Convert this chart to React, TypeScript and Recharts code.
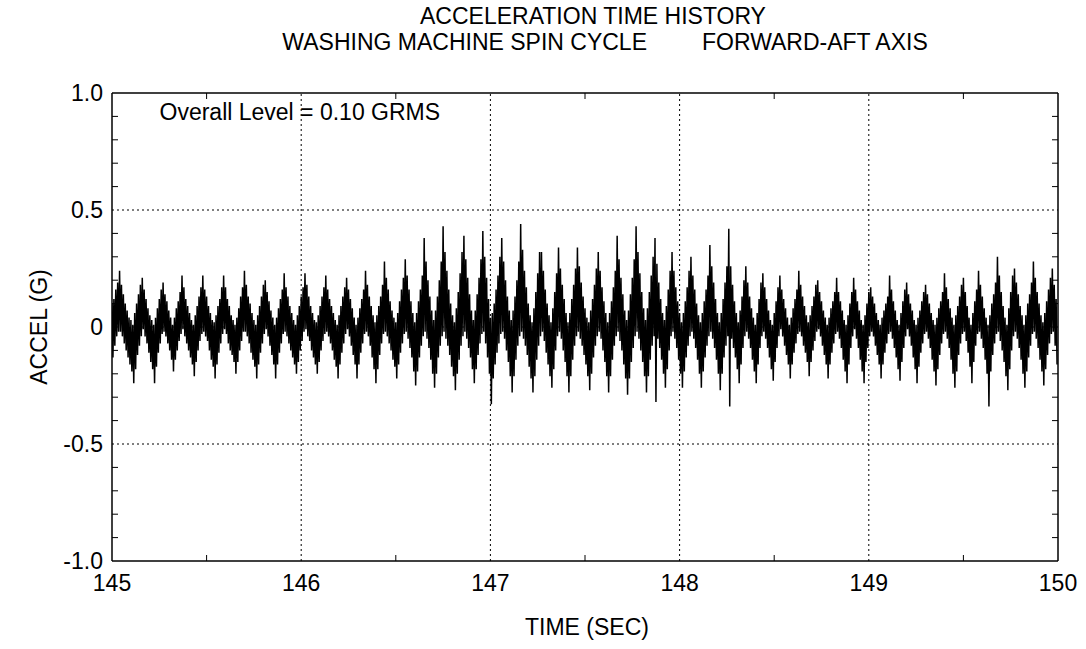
import React from 'react';
import { LineChart, Line, XAxis, YAxis, ReferenceLine } from 'recharts';

// ---------- data ----------
// Acceleration envelope, in hundredths of G.
// One bin every 0.01 s from 145.00 s: the highest and the lowest excursion inside each bin.
const T0 = 145;
const DT = 0.01;

const accelHigh: number[] = [
  10, 12, 16, 19,
  24, 18, 14, 10, 7, 4, 3, 1, 6, 10, 14, 18,
  21, 16, 12, 8, 5, 3, 1, 4, 8, 12, 16,
  19, 14, 11, 7, 4, 1, 4, 8, 11, 15,
  22, 17, 12, 9, 6, 3, 1, 5, 9, 13, 17,
  22, 16, 13, 9, 6, 3, 2, 5, 9, 12, 17,
  22, 17, 12, 9, 5, 3, 1, 4, 8, 13, 17,
  24, 18, 13, 10, 6, 3, 1, 5, 9, 13, 18,
  20, 15, 11, 7, 4, 1, 4, 8, 12, 16,
  23, 17, 13, 9, 6, 3, 1, 5, 9, 13, 17,
  23, 18, 13, 9, 6, 3, 2, 5, 9, 13, 17,
  22, 16, 12, 9, 6, 3, 1, 5, 9, 13, 17,
  21, 16, 12, 8, 4, 1, 4, 8, 12, 16,
  24, 18, 13, 9, 5, 2, 5, 9, 13, 18,
  28, 21, 16, 11, 7, 4, 2, 6, 11, 16, 21,
  29, 22, 16, 11, 6, 2, 6, 11, 16, 22,
  38, 28, 20, 13, 7, 3, 7, 13, 20, 28,
  43, 32, 24, 16, 10, 5, 2, 8, 15, 23, 32,
  39, 29, 21, 14, 7, 3, 7, 14, 21, 29,
  41, 30, 21, 12, 4, 6, 10, 16, 22, 30,
  38, 28, 20, 13, 7, 3, 7, 13, 20, 28,
  44, 33, 24, 17, 10, 5, 2, 8, 15, 23, 32,
  32, 24, 16, 10, 5, 2, 8, 15, 23,
  34, 25, 18, 12, 6, 2, 6, 12, 18, 25,
  34, 26, 19, 13, 8, 4, 2, 7, 12, 18, 25,
  32, 24, 17, 11, 6, 2, 6, 11, 17, 24,
  39, 29, 21, 14, 7, 3, 7, 14, 21, 29,
  43, 32, 23, 15, 8, 3, 8, 15, 22, 30,
  38, 27, 19, 12, 6, 3, 9, 16, 24,
  32, 24, 17, 11, 6, 2, 6, 11, 17, 24,
  30, 22, 16, 10, 5, 2, 6, 11, 16, 22,
  35, 26, 19, 12, 6, 2, 6, 12, 19, 26,
  42, 26, 18, 11, 6, 2, 7, 13, 20,
  26, 19, 13, 8, 4, 1, 6, 12, 19,
  23, 17, 12, 7, 3, 1, 6, 11, 17,
  22, 16, 12, 8, 4, 1, 4, 8, 12, 16,
  24, 18, 13, 9, 5, 2, 5, 9, 13, 18,
  20, 15, 11, 7, 4, 1, 4, 8, 11, 15,
  21, 15, 11, 7, 3, 1, 5, 10, 15,
  21, 16, 11, 7, 3, 1, 5, 10, 15,
  17, 13, 10, 6, 3, 1, 4, 7, 10, 13,
  22, 16, 11, 7, 3, 1, 6, 11, 16,
  19, 14, 10, 7, 3, 1, 4, 7, 11, 15,
  18, 14, 10, 6, 3, 1, 4, 8, 11, 15,
  23, 17, 12, 8, 4, 1, 5, 9, 13, 18,
  21, 15, 9, 4, 1, 6, 11, 16,
  24, 18, 13, 8, 4, 1, 5, 10, 14, 19,
  30, 22, 15, 9, 4, 1, 8, 15, 22,
  25, 19, 14, 9, 5, 1, 5, 10, 14, 19,
  28, 21, 15, 10, 5, 2, 6, 11, 16, 21,
  25, 18, 12,
];

const accelLow: number[] = [
  -13, -8, -4, -2,
  -2, -4, -7, -10, -13, -16, -19, -24, -18, -12, -8, -4,
  -1, -4, -7, -11, -15, -18, -24, -17, -11, -7, -3,
  -2, -4, -7, -10, -14, -19, -14, -10, -6, -3,
  -1, -4, -7, -10, -13, -16, -21, -15, -10, -6, -3,
  -2, -4, -6, -10, -14, -17, -22, -16, -11, -7, -3,
  -1, -3, -7, -10, -12, -15, -20, -15, -10, -6, -2,
  -2, -4, -7, -11, -14, -17, -22, -16, -11, -7, -3,
  -1, -4, -8, -12, -16, -22, -16, -11, -7, -3,
  -2, -4, -7, -10, -13, -16, -20, -15, -10, -6, -2,
  -1, -4, -6, -10, -13, -16, -20, -15, -10, -6, -3,
  -2, -4, -7, -10, -14, -17, -22, -16, -11, -7, -3,
  -1, -4, -8, -12, -16, -22, -16, -11, -7, -3,
  -2, -4, -8, -13, -18, -24, -18, -12, -7, -3,
  -2, -4, -7, -10, -14, -17, -22, -16, -11, -7, -3,
  -2, -5, -9, -13, -19, -25, -19, -13, -8, -4,
  -2, -5, -9, -14, -20, -26, -20, -13, -8, -4,
  -2, -5, -8, -12, -17, -21, -27, -20, -14, -8, -4,
  -2, -5, -9, -13, -18, -24, -18, -12, -7, -3,
  -2, -7, -13, -20, -33, -22, -16, -11, -7, -3,
  -2, -5, -10, -15, -21, -28, -21, -14, -8, -4,
  -2, -5, -8, -12, -17, -22, -28, -21, -14, -8, -4,
  -2, -6, -11, -16, -21, -26, -18, -10, -4,
  -2, -5, -10, -15, -21, -28, -21, -14, -8, -4,
  -2, -5, -8, -12, -16, -21, -27, -20, -13, -8, -4,
  -2, -5, -10, -15, -21, -28, -21, -14, -8, -4,
  -2, -6, -10, -16, -22, -29, -22, -15, -9, -4,
  -2, -5, -10, -15, -21, -28, -21, -14, -8, -4,
  -32, -5, -9, -14, -20, -26, -18, -10, -4,
  -2, -5, -9, -14, -20, -26, -19, -13, -8, -4,
  -2, -5, -9, -14, -20, -26, -19, -13, -8, -4,
  -2, -5, -9, -14, -20, -27, -20, -13, -8, -4,
  -34, -5, -9, -13, -18, -24, -16, -9, -4,
  -2, -5, -9, -14, -19, -24, -16, -9, -4,
  -2, -5, -9, -13, -18, -23, -15, -9, -4,
  -1, -4, -8, -12, -16, -22, -16, -11, -7, -3,
  -2, -4, -8, -11, -15, -21, -15, -10, -6, -2,
  -1, -4, -8, -12, -16, -22, -16, -11, -7, -3,
  -2, -5, -9, -14, -19, -24, -16, -9, -4,
  -1, -5, -9, -14, -19, -24, -15, -9, -4,
  -2, -4, -8, -12, -16, -22, -16, -11, -7, -3,
  -2, -5, -9, -13, -18, -23, -15, -9, -4,
  -1, -4, -8, -13, -18, -24, -17, -11, -7, -3,
  -2, -5, -9, -14, -19, -25, -18, -12, -7, -3,
  -2, -5, -9, -14, -20, -26, -19, -12, -7, -3,
  -2, -6, -11, -17, -24, -15, -8, -3,
  -2, -5, -9, -14, -20, -34, -19, -12, -7, -3,
  -2, -6, -10, -15, -21, -27, -18, -10, -4,
  -2, -5, -9, -14, -20, -26, -19, -13, -8, -3,
  -2, -5, -9, -14, -19, -25, -18, -12, -7, -3,
  -2, -8, -16,
];

const xTicks = [145, 145.5, 146, 146.5, 147, 147.5, 148, 148.5, 149, 149.5, 150];
const xMajorTicks = [145, 146, 147, 148, 149, 150];
const yTicks = [-1, -0.9, -0.8, -0.7, -0.6, -0.5, -0.4, -0.3, -0.2, -0.1, 0, 0.1, 0.2, 0.3, 0.4, 0.5, 0.6, 0.7, 0.8, 0.9, 1];
const yMajorTicks = [-1, -0.5, 0, 0.5, 1];
const xGrid = [146, 147, 148, 149];
const yGrid = [-0.5, 0, 0.5];

const TITLE1 = 'ACCELERATION TIME HISTORY';
const TITLE2A = 'WASHING MACHINE SPIN CYCLE';
const TITLE2B = 'FORWARD-AFT AXIS';
const X_LABEL = 'TIME (SEC)';
const Y_LABEL = 'ACCEL (G)';
const NOTE = 'Overall Level = 0.10 GRMS';

const nBins = Math.min(accelHigh.length, accelLow.length);
const data: { t: number; a: number }[] = [];
for (let i = 0; i < nBins; i++) {
  data.push({ t: +(T0 + i * DT).toFixed(4), a: accelHigh[i] / 100 });
  data.push({ t: +(T0 + i * DT + DT / 2).toFixed(4), a: accelLow[i] / 100 });
}

// ---------- layout ----------
const W = 1086;
const H = 649;
const M_TOP = 93;
const M_RIGHT = 28;
const Y_W = 112;
const X_H = 88;
const PLOT_W = W - Y_W - M_RIGHT;
const PLOT_H = H - M_TOP - X_H;
const TICK = 6;
const FONT = '"Liberation Sans", Arial, Helvetica, sans-serif';
const FS = 23;

const fmtY = (v: number) => (v === 0 ? '0' : v.toFixed(1));
const isIn = (arr: number[], v: number) => arr.some((a) => Math.abs(a - v) < 1e-9);

const XTick = (props: any) => {
  const { x, y, payload } = props;
  const v = payload.value;
  if (isIn(xMajorTicks, v)) {
    return (
      <text x={x} y={y + 30} textAnchor="middle" fontFamily={FONT} fontSize={FS} fill="#000">
        {String(v)}
      </text>
    );
  }
  return (
    <g>
      <line x1={x} x2={x} y1={y} y2={y - TICK} stroke="#000" strokeWidth={1} />
      <line x1={x} x2={x} y1={y - PLOT_H} y2={y - PLOT_H + TICK} stroke="#000" strokeWidth={1} />
    </g>
  );
};

const YTick = (props: any) => {
  const { x, y, payload } = props;
  const v = payload.value;
  if (isIn(yMajorTicks, v)) {
    return (
      <text x={x - 9} y={y + 8} textAnchor="end" fontFamily={FONT} fontSize={FS} fill="#000">
        {fmtY(v)}
      </text>
    );
  }
  return (
    <g>
      <line x1={x} x2={x + TICK} y1={y} y2={y} stroke="#000" strokeWidth={1} />
      <line x1={x + PLOT_W} x2={x + PLOT_W - TICK} y1={y} y2={y} stroke="#000" strokeWidth={1} />
    </g>
  );
};

export default function App() {
  return (
    <div style={{ position: 'absolute', left: 0, top: 0, width: W, height: H, background: '#fff' }}>
      <LineChart
        width={W}
        height={H}
        data={data}
        margin={{ top: M_TOP, right: M_RIGHT, bottom: 0, left: 0 }}
      >
        <XAxis
          dataKey="t"
          type="number"
          domain={[145, 150]}
          ticks={xTicks}
          interval={0}
          allowDataOverflow
          tickLine={false}
          tickSize={0}
          tickMargin={0}
          height={X_H}
          axisLine={{ stroke: '#000', strokeWidth: 1.5 }}
          tick={<XTick />}
        />
        <YAxis
          type="number"
          domain={[-1, 1]}
          ticks={yTicks}
          interval={0}
          allowDataOverflow
          tickLine={false}
          tickSize={0}
          tickMargin={0}
          width={Y_W}
          axisLine={{ stroke: '#000', strokeWidth: 1.5 }}
          tick={<YTick />}
        />
        {xGrid.map((g) => (
          <ReferenceLine key={'xg' + g} x={g} stroke="#000" strokeWidth={1} strokeDasharray="2 3" />
        ))}
        {yGrid.map((g) => (
          <ReferenceLine key={'yg' + g} y={g} stroke="#000" strokeWidth={1} strokeDasharray="2 3" />
        ))}
        <ReferenceLine y={1} stroke="#000" strokeWidth={1.5} />
        <ReferenceLine x={150} stroke="#000" strokeWidth={1.5} />
        <Line
          type="linear"
          dataKey="a"
          stroke="#000"
          strokeWidth={1.5}
          dot={false}
          isAnimationActive={false}
        />
      </LineChart>
      <svg
        width={W}
        height={H}
        style={{ position: 'absolute', left: 0, top: 0, pointerEvents: 'none' }}
      >
        <g fontFamily={FONT} fontSize={FS} fill="#000">
          <text x={593} y={23.5} textAnchor="middle">{TITLE1}</text>
          <text x={647} y={50} textAnchor="end">{TITLE2A}</text>
          <text x={702} y={50} textAnchor="start">{TITLE2B}</text>
          <text x={159.5} y={119.5} textAnchor="start">{NOTE}</text>
          <text x={587} y={635} textAnchor="middle">{X_LABEL}</text>
          <text x={47} y={327} textAnchor="middle" transform="rotate(-90 47 327)">{Y_LABEL}</text>
        </g>
      </svg>
    </div>
  );
}
